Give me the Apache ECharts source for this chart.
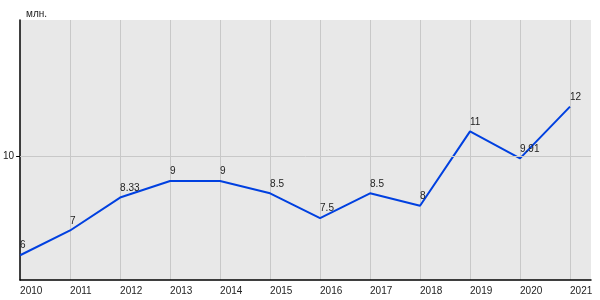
<!DOCTYPE html>
<html>
<head>
<meta charset="utf-8">
<script src="https://cdn.jsdelivr.net/npm/echarts@6/dist/echarts.min.js"></script>
<style>html,body{margin:0;padding:0;background:#fff}#c{width:600px;height:300px}</style>
</head>
<body>
<div id="c"></div>
<script>
const years = [2010, 2011, 2012, 2013, 2014, 2015, 2016, 2017, 2018, 2019, 2020, 2021];
const values = [6, 7, 8.33, 9, 9, 8.5, 7.5, 8.5, 8, 11, 9.91, 12];
const yTickValues = [10];
const unitLabel = 'млн.';

const font = 'Liberation Sans, Arial, sans-serif';
const chart = echarts.init(document.getElementById('c'), null, {renderer: 'canvas'});
chart.setOption({
  animation: false,
  backgroundColor: '#fff',
  title: {
    text: unitLabel, left: 21, top: 4,
    textStyle: {fontFamily: font, fontSize: 10, fontWeight: 'normal', color: '#222'}
  },
  grid: {left: 20, right: 9, top: 20, bottom: 20, show: true, backgroundColor: '#e8e8e8', borderWidth: 0},
  xAxis: {
    type: 'value', min: 2010, max: 2021.42, interval: 1,
    axisLine: {show: true, onZero: false, lineStyle: {color: '#000', width: 1.5}},
    axisTick: {show: false},
    axisLabel: {
      fontFamily: font, fontSize: 10, color: '#222', align: 'left', margin: 6,
      showMaxLabel: false,
      formatter: v => Number.isInteger(v) ? String(v) : ''
    },
    splitLine: {show: true, showMinLine: false, showMaxLine: false, lineStyle: {color: '#c8c8c8', width: 1}}
  },
  yAxis: {
    type: 'value', min: 5, max: 15.5,
    axisLine: {show: true, onZero: false, lineStyle: {color: '#000', width: 1.5}},
    axisTick: {show: true, length: 4, inside: false, lineStyle: {color: '#000', width: 1}, customValues: yTickValues},
    axisLabel: {fontFamily: font, fontSize: 10, color: '#222', margin: 6, customValues: yTickValues},
    splitLine: {show: false}
  },
  series: [{
    type: 'line',
    data: years.map((y, i) => [y, values[i]]),
    symbol: 'circle', symbolSize: 1,
    itemStyle: {color: 'rgba(0,0,0,0)'},
    lineStyle: {color: '#0040e0', width: 2},
    label: {
      show: true, position: 'top', distance: 4, align: 'left',
      fontFamily: font, fontSize: 10, color: '#222',
      formatter: p => String(p.value[1])
    },
    markLine: {
      silent: true, symbol: 'none', label: {show: false},
      lineStyle: {color: '#c8c8c8', width: 1, type: 'solid'},
      data: yTickValues.map(v => ({yAxis: v}))
    },
    z: 3
  }]
});
</script>
</body>
</html>
